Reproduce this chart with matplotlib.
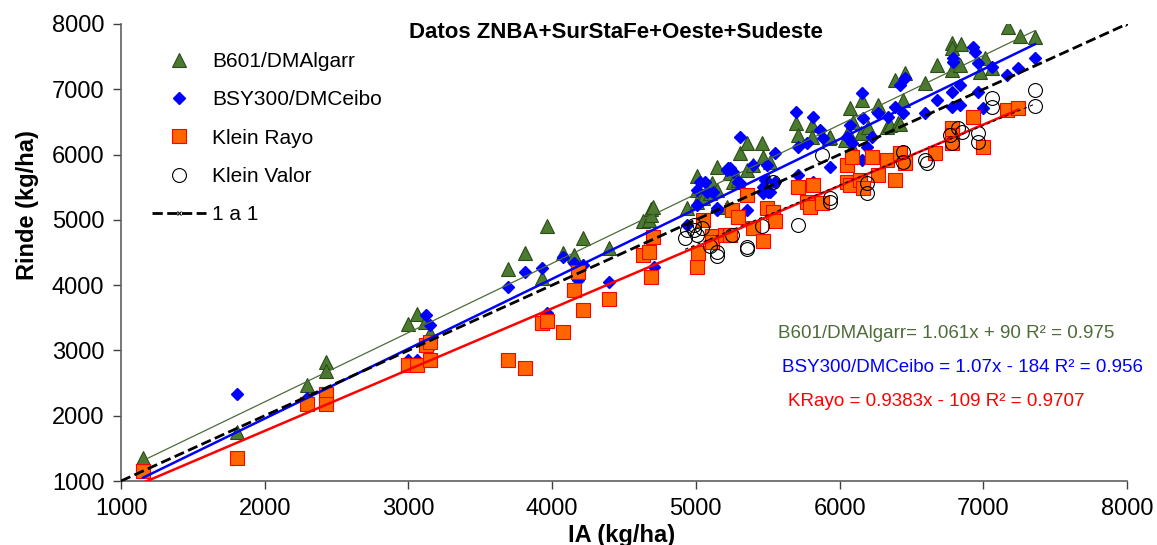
import numpy as np
import matplotlib
matplotlib.use("Agg")
import matplotlib.pyplot as plt
from matplotlib.lines import Line2D

plt.rcParams['font.family'] = ['Liberation Sans', 'DejaVu Sans']

# B601/DMAlgarr
b601_x = [1153, 1805, 2294, 2424, 2424, 3000, 3058, 3115, 3150, 3690, 3811, 3928,
          3962, 4073, 4152, 4217, 4398, 4630, 4676, 4690, 4685, 4704, 4936, 5006,
          5006, 5006, 5052, 5098, 5112, 5145, 5145, 5214, 5238, 5238, 5261, 5294,
          5308, 5355, 5355, 5401, 5459, 5470, 5502, 5515, 5700, 5713, 5805, 5805,
          5923, 5934, 6038, 6056, 6073, 6087, 6096, 6147, 6154, 6200, 6270, 6333,
          6351, 6386, 6410, 6421, 6443, 6456, 6595, 6676, 6780, 6780, 6780, 6838,
          6843, 6977, 7012, 7058, 7175, 7252, 7360]
b601_y = [1352, 1755, 2470, 2827, 2690, 3404, 3557, 3440, 3266, 4246, 4490, 4107,
          4905, 4487, 4461, 4716, 4564, 4990, 5000, 5160, 5080, 5200, 5177, 5671,
          5456, 5277, 5329, 5405, 5563, 5813, 5456, 5200, 5711, 5717, 5583, 5610,
          6018, 6171, 5763, 5840, 6171, 5965, 5610, 5885, 6478, 6299, 6452, 6273,
          6248, 6273, 6222, 6344, 6707, 6120, 6503, 6324, 6835, 6426, 6758, 6421,
          6452, 7141, 6478, 6467, 6835, 7243, 7090, 7371, 7712, 7625, 7294, 7371,
          7701, 7268, 7472, 7319, 7957, 7815, 7805]

# BSY300/DMCeibo
bsy_x = [1155, 1805, 2294, 3000, 3058, 3122, 3150, 3150, 3690, 3811, 3928, 3962,
         4073, 4152, 4182, 4217, 4398, 4681, 4709, 4936, 5006, 5006, 5029, 5064,
         5075, 5122, 5145, 5145, 5214, 5226, 5238, 5261, 5296, 5308, 5308, 5355,
         5401, 5470, 5470, 5482, 5494, 5505, 5516, 5551, 5551, 5700, 5713, 5713,
         5771, 5818, 5818, 5864, 5887, 5934, 6050, 6073, 6084, 6154, 6154, 6165,
         6188, 6223, 6270, 6340, 6386, 6421, 6443, 6456, 6595, 6676, 6780, 6780,
         6792, 6792, 6838, 6838, 6931, 6942, 6966, 6966, 7000, 7058, 7163, 7244,
         7360]
bsy_y = [1150, 2332, 2270, 2853, 2853, 3542, 3389, 3057, 3966, 4205, 4257, 3568,
         4435, 4343, 4078, 4308, 4052, 4563, 4282, 4920, 5225, 5456, 5583, 5583,
         5430, 5430, 5150, 5177, 5763, 5788, 5788, 5737, 5583, 5558, 6273, 5150,
         5840, 5507, 5405, 5610, 5840, 5430, 5430, 5583, 6018, 6655, 5686, 6120,
         6171, 6579, 5583, 6375, 6248, 5813, 6273, 6452, 6171, 6937, 5916, 6554,
         6120, 6273, 6630, 6579, 6732, 7064, 6630, 7166, 6630, 6835, 6963, 6732,
         7472, 7421, 7064, 6758, 7651, 7574, 7396, 6963, 6707, 7345, 7222, 7319,
         7472]

# Klein Rayo
rayo_x = [1155, 1805, 2297, 2424, 2424, 3000, 3058, 3122, 3150, 3150, 3690, 3811,
          3928, 3962, 4078, 4152, 4182, 4217, 4398, 4630, 4676, 4686, 4704, 5006,
          5017, 5052, 5110, 5110, 5203, 5238, 5250, 5296, 5355, 5401, 5470, 5494,
          5539, 5551, 5713, 5771, 5795, 5818, 5876, 6050, 6050, 6073, 6084, 6143,
          6165, 6223, 6270, 6328, 6386, 6421, 6456, 6665, 6780, 6780, 6780, 6931,
          7000, 7163, 7244]
rayo_y = [1158, 1348, 2179, 2332, 2179, 2776, 2776, 3083, 3133, 2853, 2853, 2735,
          3415, 3455, 3287, 3920, 4195, 3619, 3784, 4461, 4512, 4130, 4741, 4272,
          4496, 4996, 4752, 4665, 4767, 4767, 5150, 5047, 5380, 4870, 4680, 5177,
          5125, 4986, 5507, 5277, 5200, 5533, 5253, 5840, 5583, 5533, 5966, 5610,
          5483, 5966, 5686, 5916, 5610, 6018, 5865, 6018, 6400, 6299, 6171, 6579,
          6120, 6684, 6707]

# Klein Valor
valor_x = [4925, 4936, 4990, 5006, 5040, 4990, 5098, 5145, 5145, 5250, 5355, 5355,
           5459, 5539, 5713, 5876, 5934, 5934, 6188, 6188, 6443, 6443, 6595, 6605,
           6770, 6780, 6826, 6850, 6966, 6966, 7058, 7058, 7360, 7360]
valor_y = [4720, 4850, 4850, 4770, 4880, 4920, 4600, 4512, 4450, 4767, 4590, 4550,
           4900, 5583, 4920, 5992, 5330, 5277, 5558, 5405, 6043, 5890, 5916, 5865,
           6299, 6171, 6400, 6350, 6324, 6197, 6860, 6732, 6988, 6742]

# trend lines (slope, intercept)
fit_b601 = (1.061, 90)
fit_bsy = (1.07, -184)
fit_rayo = (0.9383, -109)

uno_a_uno = [1000, 8000]

green_face = '#4b7b2f'
green_edge = '#2c4a1a'
green_line = '#4e6b3a'
orange = '#ff6600'

fig = plt.figure(figsize=(11.57, 5.45), dpi=100)
ax = fig.add_axes([121/1157, 1 - 481/545, (1127-121)/1157, (481-24)/545])

ax.plot(b601_x, b601_y, ls='none', marker='^', ms=10.5, mfc=green_face, mec=green_edge, mew=0.8, zorder=2)
ax.plot(bsy_x, bsy_y, ls='none', marker='D', ms=6.5, mfc='#0000ff', mec='#0000ff', zorder=2)
ax.plot(rayo_x, rayo_y, ls='none', marker='s', ms=9.5, mfc=orange, mec='#ff0000', mew=0.8, zorder=2)
ax.plot(valor_x, valor_y, ls='none', marker='o', ms=10, mfc='none', mec='black', mew=0.8, zorder=2)

def trend(xs, coef):
    xr = np.array([min(xs), max(xs)])
    return xr, coef[0]*xr + coef[1]

xr, yr = trend(b601_x, fit_b601)
ax.plot(xr, yr, color=green_line, lw=0.9, zorder=3)
xr, yr = trend(bsy_x, fit_bsy)
ax.plot(xr, yr, color='#0000ff', lw=1.8, zorder=3)
xr, yr = trend(rayo_x, fit_rayo)
ax.plot(xr, yr, color='#ff0000', lw=1.8, zorder=3)
fit_valor = np.polyfit(valor_x, valor_y, 1)
xr, yr = trend(valor_x, fit_valor)
ax.plot(xr, yr, color='black', lw=0.8, ls=(0, (3, 3)), zorder=3)

ax.plot(uno_a_uno, uno_a_uno, color='black', lw=2, ls='--', marker='x', ms=3, mew=0.8, zorder=3)

ax.set_xlim(1000, 8000)
ax.set_ylim(1000, 8000)
ax.set_xticks(range(1000, 8001, 1000))
ax.set_yticks(range(1000, 8001, 1000))
ax.tick_params(labelsize=17, length=6, width=1, pad=6, color='#404040')
for s in ['top', 'right']:
    ax.spines[s].set_visible(False)
for s in ['left', 'bottom']:
    ax.spines[s].set_color('#606060')
    ax.spines[s].set_linewidth(1.2)

fig.text(28/1157, 1 - 205/545, 'Rinde (kg/ha)', rotation=90, fontsize=17,
         fontweight='bold', ha='center', va='center')
fig.text(622/1157, 3/545, 'IA (kg/ha)', fontsize=17, fontweight='bold',
         ha='center', va='baseline')
fig.text(616/1157, 1 - 33/545, 'Datos ZNBA+SurStaFe+Oeste+Sudeste', fontsize=16,
         fontweight='bold', ha='center', va='center')

fig.text(778/1157, 1 - 333/545, 'B601/DMAlgarr= 1.061x + 90 R² = 0.975',
         fontsize=13.5, color=green_line, va='center')
fig.text(782/1157, 1 - 368/545, 'BSY300/DMCeibo = 1.07x - 184 R² = 0.956',
         fontsize=13.5, color='#0000ff', va='center')
fig.text(788/1157, 1 - 401/545, 'KRayo = 0.9383x - 109 R² = 0.9707',
         fontsize=13.5, color='#ff0000', va='center')

handles = [
    Line2D([], [], ls='none', marker='^', ms=10.5, mfc=green_face, mec=green_edge, mew=0.8),
    Line2D([], [], ls='none', marker='D', ms=6.5, mfc='#0000ff', mec='#0000ff'),
    Line2D([], [], ls='none', marker='s', ms=9.5, mfc=orange, mec='#ff0000', mew=0.8),
    Line2D([], [], ls='none', marker='o', ms=10, mfc='none', mec='black', mew=0.8),
    Line2D([], [], color='black', lw=2, ls='--', marker='x', ms=3, mew=0.8),
]
labels = ['B601/DMAlgarr', 'BSY300/DMCeibo', 'Klein Rayo', 'Klein Valor', '1 a 1']
fig.legend(handles, labels, loc='upper left', bbox_to_anchor=(152/1157, 1 - 52/545),
           frameon=False, fontsize=15, numpoints=1, handlelength=2.6,
           handletextpad=0.3, labelspacing=0.93, borderpad=0, borderaxespad=0)

fig.savefig('out.png', dpi=100)
